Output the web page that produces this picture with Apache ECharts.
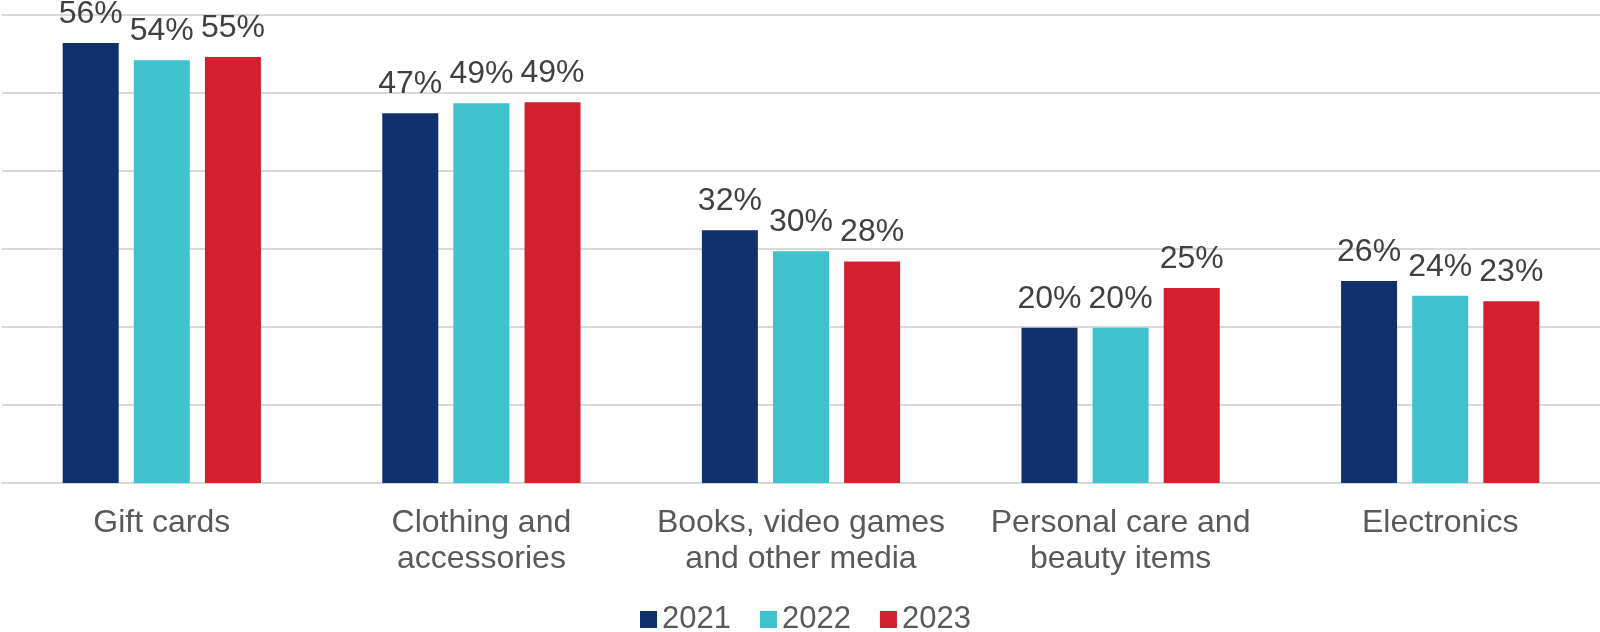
<!DOCTYPE html>
<html>
<head>
<meta charset="utf-8">
<script src="https://cdn.jsdelivr.net/npm/echarts@6/dist/echarts.min.js"></script>
<style>
html,body{margin:0;padding:0;background:#fff;}
#chart{width:1600px;height:632px;}
</style>
</head>
<body>
<div id="chart"></div>
<script>
const categories = ["Gift cards", "Clothing and\naccessories", "Books, video games\nand other media", "Personal care and\nbeauty items", "Electronics"];
const seriesNames = ["2021", "2022", "2023"];
const values2021 = [56.4, 47.4, 32.4, 19.9, 25.9];
const values2022 = [54.2, 48.7, 29.7, 19.9, 24.0];
const values2023 = [54.6, 48.8, 28.4, 25.0, 23.3];
const colors = ["#10316b", "#3fc1ce", "#d2202e"];
const yTicks = [0, 10, 20, 30, 40, 50, 60];

const chart = echarts.init(document.getElementById('chart'));
const font = "'Liberation Sans', Arial, sans-serif";
const allValues = [values2021, values2022, values2023];
const series = seriesNames.map((name, i) => ({
  name: name,
  type: 'bar',
  data: allValues[i],
  barWidth: 56,
  barGap: '27%',
  itemStyle: { color: colors[i] },
  label: {
    show: true,
    position: 'top',
    distance: 13,
    color: '#404040',
    fontSize: 32,
    fontFamily: font,
    formatter: p => Math.round(p.value) + '%'
  }
}));

chart.setOption({
  animation: false,
  grid: { left: 2, right: 0, top: 15, bottom: 149, containLabel: false },
  legend: {
    data: seriesNames,
    left: 635,
    top: 599,
    itemWidth: 17,
    itemHeight: 17,
    itemGap: 29,
    icon: 'rect',
    textStyle: { color: '#595959', fontSize: 31, fontFamily: font }
  },
  xAxis: {
    type: 'category',
    data: categories,
    axisTick: { show: false },
    axisLine: { lineStyle: { color: '#d9d9d9', width: 2 } },
    axisLabel: {
      color: '#595959',
      fontSize: 32,
      fontFamily: font,
      lineHeight: 36,
      margin: 22,
      interval: 0
    }
  },
  yAxis: {
    type: 'value',
    min: yTicks[0],
    max: yTicks[yTicks.length - 1],
    interval: 10,
    axisLabel: { show: false },
    axisLine: { show: false },
    axisTick: { show: false },
    splitLine: { lineStyle: { color: '#d9d9d9', width: 2 } }
  },
  series: series
});
</script>
</body>
</html>
